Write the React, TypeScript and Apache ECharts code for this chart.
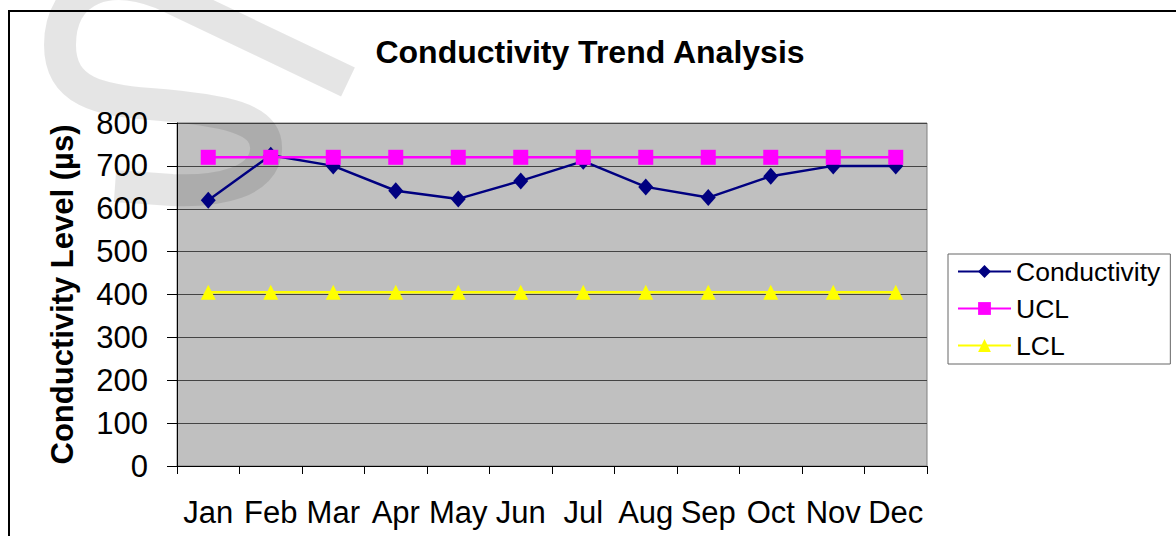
import React, { useEffect, useRef } from "react";
import * as echarts from "echarts";

const months = ["Jan", "Feb", "Mar", "Apr", "May", "Jun", "Jul", "Aug", "Sep", "Oct", "Nov", "Dec"];
const conductivity = [620, 725, 700, 642, 623, 665, 711, 651, 626, 676, 700, 700];
const ucl = [720, 720, 720, 720, 720, 720, 720, 720, 720, 720, 720, 720];
const lcl = [405, 405, 405, 405, 405, 405, 405, 405, 405, 405, 405, 405];
const yTicks = { min: 0, max: 800, interval: 100 };

const WATERMARK_D =
  "M 348 82 L 172 -2 C 110 -32 60 -12 60 45 C 60 92 100 100 150 104 C 225 110 268 118 266 150 C 264 182 220 192 172 190 L 115 186";

let registered = false;
function ensureShape() {
  if (registered) return;
  echarts.graphic.registerShape("wmS", echarts.graphic.extendPath(WATERMARK_D, {}));
  registered = true;
}

export default function App() {
  const ref = useRef<HTMLDivElement>(null);
  useEffect(() => {
    if (!ref.current) return;
    ensureShape();
    const chart = echarts.init(ref.current, null, { renderer: "svg" });
    const font = "Arial, 'Liberation Sans', sans-serif";
    chart.setOption({
      animation: false,
      backgroundColor: "#ffffff",
      textStyle: { fontFamily: font },
      title: {
        text: "Conductivity Trend Analysis",
        left: 585,
        top: 31,
        textAlign: "center",
        textStyle: { fontSize: 32, fontWeight: "bold", color: "#000", fontFamily: font },
      },
      graphic: [
        {
          type: "wmS",
          x: 0,
          y: 0,
          z: 1,
          silent: true,
          style: { fill: "none", stroke: "rgba(0,0,0,0.1)", lineWidth: 32 },
        },
        {
          type: "rect",
          z: 10,
          silent: true,
          shape: { x: 9, y: 11, width: 1300, height: 700 },
          style: { fill: "none", stroke: "#000", lineWidth: 2 },
        },
      ],
      legend: {
        orient: "vertical",
        left: 948,
        top: 254,
        padding: [4, 10, 5, 9],
        itemWidth: 53,
        itemHeight: 16,
        itemGap: 10,
        borderColor: "#666",
        borderWidth: 1,
        backgroundColor: "#fff",
        textStyle: { fontSize: 26.5, color: "#000", fontFamily: font },
        data: ["Conductivity", "UCL", "LCL"],
      },
      grid: {
        left: 177,
        top: 123,
        right: 249,
        bottom: 70,
        show: true,
        backgroundColor: "#c0c0c0",
        borderColor: "#808080",
        borderWidth: 1,
      },
      xAxis: {
        type: "category",
        data: months,
        boundaryGap: true,
        axisLine: { show: true, lineStyle: { color: "#000", width: 1 } },
        axisTick: { show: true, length: 8, alignWithLabel: false, lineStyle: { color: "#000" } },
        axisLabel: { interval: 0, fontSize: 31, color: "#000", margin: 31, fontFamily: font },
      },
      yAxis: {
        type: "value",
        min: yTicks.min,
        max: yTicks.max,
        interval: yTicks.interval,
        name: "Conductivity Level (\u00b5s)",
        nameLocation: "middle",
        nameGap: 99,
        nameTextStyle: { fontSize: 31, fontWeight: "bold", color: "#000", fontFamily: font },
        axisLine: { show: true, lineStyle: { color: "#000", width: 1 } },
        axisTick: { show: true, length: 10, inside: false, lineStyle: { color: "#000" } },
        axisLabel: { fontSize: 31, color: "#000", margin: 29, fontFamily: font },
        splitLine: { show: true, lineStyle: { color: "#444", width: 1 } },
      },
      series: [
        {
          name: "Conductivity",
          type: "line",
          data: conductivity,
          z: 3,
          symbol: "diamond",
          symbolSize: [15, 17],
          color: "#000080",
          lineStyle: { color: "#000080", width: 2.5 },
          itemStyle: { color: "#000080" },
        },
        {
          name: "UCL",
          type: "line",
          data: ucl,
          z: 4,
          symbol: "rect",
          symbolSize: 15,
          color: "#ff00ff",
          lineStyle: { color: "#ff00ff", width: 2.5 },
          itemStyle: { color: "#ff00ff" },
        },
        {
          name: "LCL",
          type: "line",
          data: lcl,
          z: 4,
          symbol: "triangle",
          symbolSize: 15,
          color: "#ffff00",
          lineStyle: { color: "#ffff00", width: 2.5 },
          itemStyle: { color: "#ffff00" },
        },
      ],
    });
    return () => chart.dispose();
  }, []);
  return (
    <div
      ref={ref}
      style={{ position: "fixed", left: 0, top: 0, width: 1176, height: 536 }}
    />
  );
}
